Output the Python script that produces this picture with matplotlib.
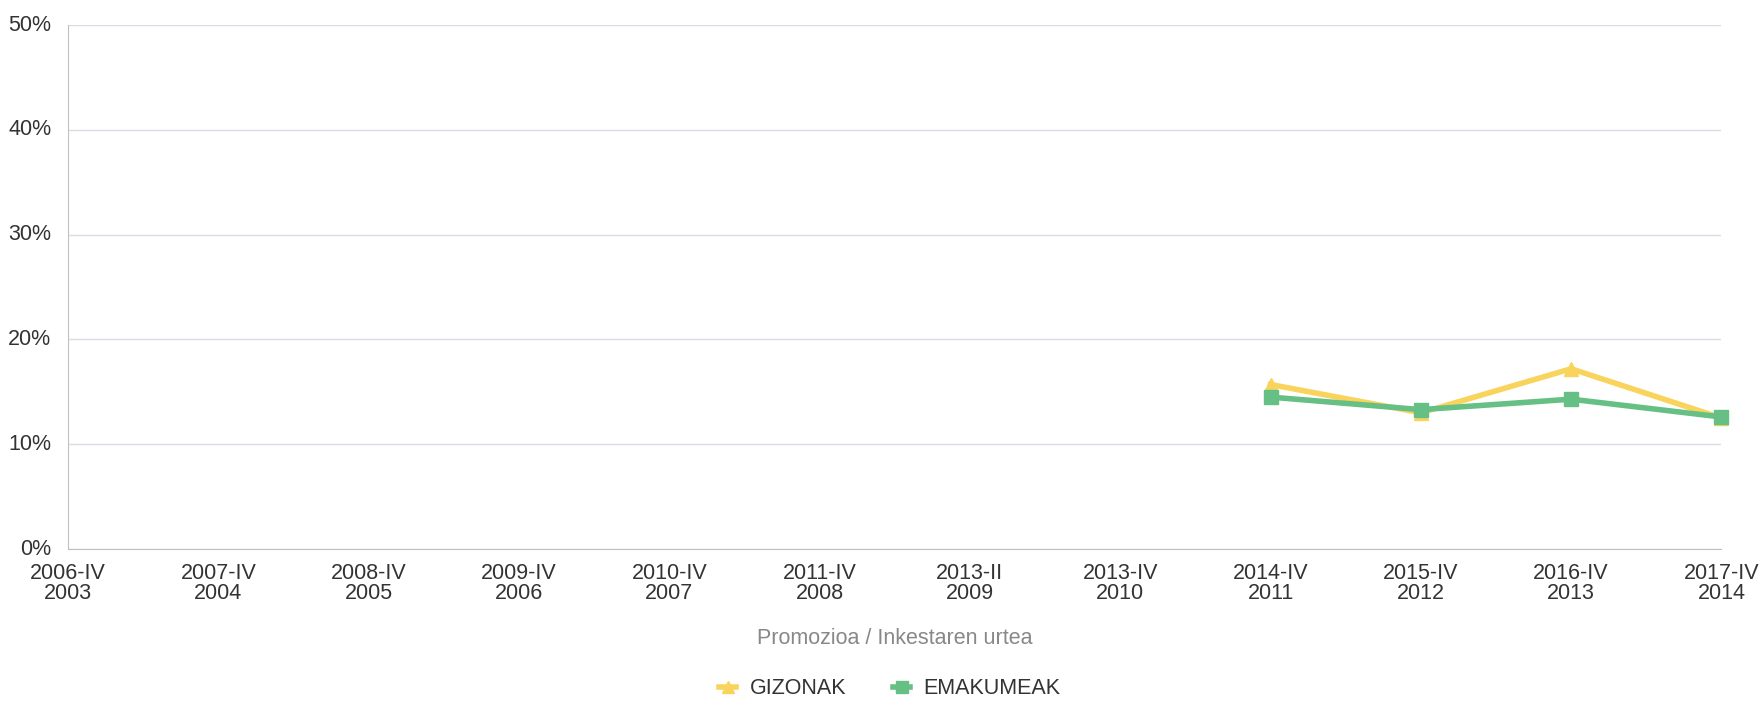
import matplotlib
matplotlib.use("Agg")
import matplotlib.pyplot as plt
from matplotlib.ticker import FuncFormatter

plt.rcParams['font.family'] = ['Liberation Sans', 'DejaVu Sans']

categories = ["2006-IV\n2003", "2007-IV\n2004", "2008-IV\n2005", "2009-IV\n2006",
              "2010-IV\n2007", "2011-IV\n2008", "2013-II\n2009", "2013-IV\n2010",
              "2014-IV\n2011", "2015-IV\n2012", "2016-IV\n2013", "2017-IV\n2014"]
gizonak = [None, None, None, None, None, None, None, None, 15.7, 13.0, 17.2, 12.5]
emakumeak = [None, None, None, None, None, None, None, None, 14.5, 13.3, 14.3, 12.6]
yticks = [0, 10, 20, 30, 40, 50]

fig = plt.figure(figsize=(17.62, 7.03), dpi=100)
ax = fig.add_axes([0.0386, 0.219, 0.9384, 0.7454])

x = list(range(len(categories)))
gx = [i for i, v in zip(x, gizonak) if v is not None]
gy = [v for v in gizonak if v is not None]
ex = [i for i, v in zip(x, emakumeak) if v is not None]
ey = [v for v in emakumeak if v is not None]

ax.plot(gx, gy, color='#f9d45c', lw=4, marker='^', ms=10, label='GIZONAK', zorder=3, clip_on=False)
ax.plot(ex, ey, color='#66bf84', lw=4, marker='s', ms=10, label='EMAKUMEAK', zorder=4, clip_on=False)

ax.set_xlim(0, len(categories) - 1)
ax.set_ylim(0, 50)
ax.set_yticks(yticks)
ax.yaxis.set_major_formatter(FuncFormatter(lambda v, p: f"{int(v)}%"))
ax.set_xticks(x)
ax.set_xticklabels(categories, linespacing=0.95)
ax.tick_params(axis='both', length=0, labelsize=15.5, colors='#333333')
ax.tick_params(axis='y', pad=12)
ax.tick_params(axis='x', pad=10)
for lbl in ax.get_yticklabels():
    lbl.set_verticalalignment('center')

ax.grid(axis='y', color='#d8dce6', lw=1)
ax.set_axisbelow(True)
for s in ['top', 'right']:
    ax.spines[s].set_visible(False)
ax.spines['left'].set_color('#c0c0c0')
ax.spines['bottom'].set_color('#c0c0c0')

ax.set_xlabel("Promozioa / Inkestaren urtea", fontsize=15.5, color='#888888', labelpad=17)

leg = fig.legend(loc='lower center', bbox_to_anchor=(0.505, -0.022), ncol=2, frameon=False,
                 fontsize=15.5, handlelength=0.8, handletextpad=0.6, columnspacing=2.2,
                 markerscale=0.8)
for t in leg.get_texts():
    t.set_color('#333333')

fig.savefig("out.png", dpi=100)
